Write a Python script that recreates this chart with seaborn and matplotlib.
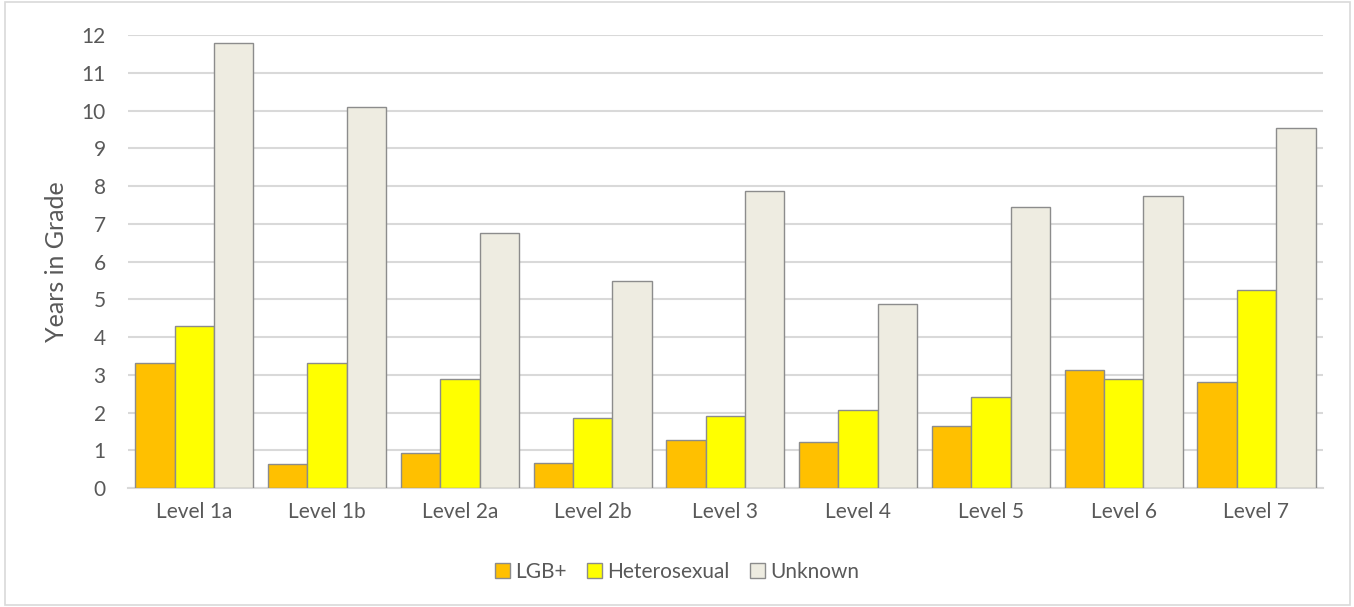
import numpy as np
import pandas as pd
import matplotlib
matplotlib.use("Agg")
import matplotlib.pyplot as plt
from matplotlib.patches import Rectangle
import seaborn as sns

levels = ["Level 1a", "Level 1b", "Level 2a", "Level 2b", "Level 3",
          "Level 4", "Level 5", "Level 6", "Level 7"]
lgb = [3.32, 0.63, 0.92, 0.67, 1.28, 1.22, 1.65, 3.12, 2.82]
hetero = [4.29, 3.32, 2.90, 1.86, 1.90, 2.08, 2.41, 2.89, 5.24]
unknown = [11.79, 10.11, 6.77, 5.49, 7.87, 4.88, 7.45, 7.74, 9.53]
series_names = ["LGB+", "Heterosexual", "Unknown"]
y_ticks = list(range(0, 13))

df = pd.DataFrame({
    "Level": levels * 3,
    "Group": np.repeat(series_names, len(levels)),
    "Years": lgb + hetero + unknown,
})

sns.set_theme(style="white")
plt.rcParams["font.family"] = ["Lato", "DejaVu Sans"]

text_col = "#595959"
grid_col = "#d9d9d9"
palette = {"LGB+": "#FFC000", "Heterosexual": "#FFFF00", "Unknown": "#EEECE1"}

fig = plt.figure(figsize=(13.54, 6.07), dpi=100)
ax = fig.add_axes([0.0945, 0.196, 0.8825, 0.746])

sns.barplot(data=df, x="Level", y="Years", hue="Group", order=levels,
            hue_order=series_names, palette=palette, width=0.89,
            edgecolor="#8c8c8c", linewidth=1.0, saturation=1, ax=ax,
            zorder=3)

ax.set_ylim(0, 12)
ax.set_xlim(-0.5, len(levels) - 0.5)
ax.set_yticks(y_ticks)
ax.yaxis.grid(True, color=grid_col, linewidth=1.5, zorder=0)
ax.set_axisbelow(True)
for s in ["top", "right", "left"]:
    ax.spines[s].set_visible(False)
ax.spines["bottom"].set_color(grid_col)
ax.spines["bottom"].set_linewidth(1.5)
ax.tick_params(axis="both", length=0, colors=text_col, labelsize=15)
ax.tick_params(axis="x", pad=10)
ax.tick_params(axis="y", pad=16)
ax.set_xlabel("")
ax.set_ylabel("Years in Grade", color=text_col, fontsize=18, labelpad=10)

handles, labels = ax.get_legend_handles_labels()
ax.legend_.remove()
fig.legend(handles, labels, loc="center", bbox_to_anchor=(0.5, 0.058),
           ncol=3, frameon=False, fontsize=15, labelcolor=text_col,
           handlelength=0.7, handleheight=0.7, handletextpad=0.25,
           columnspacing=1.0)

fig.patches.append(Rectangle((0.004, 0.004), 0.993, 0.992,
                             transform=fig.transFigure, fill=False,
                             edgecolor=grid_col, linewidth=1.2))

fig.savefig("out.png", dpi=100)
